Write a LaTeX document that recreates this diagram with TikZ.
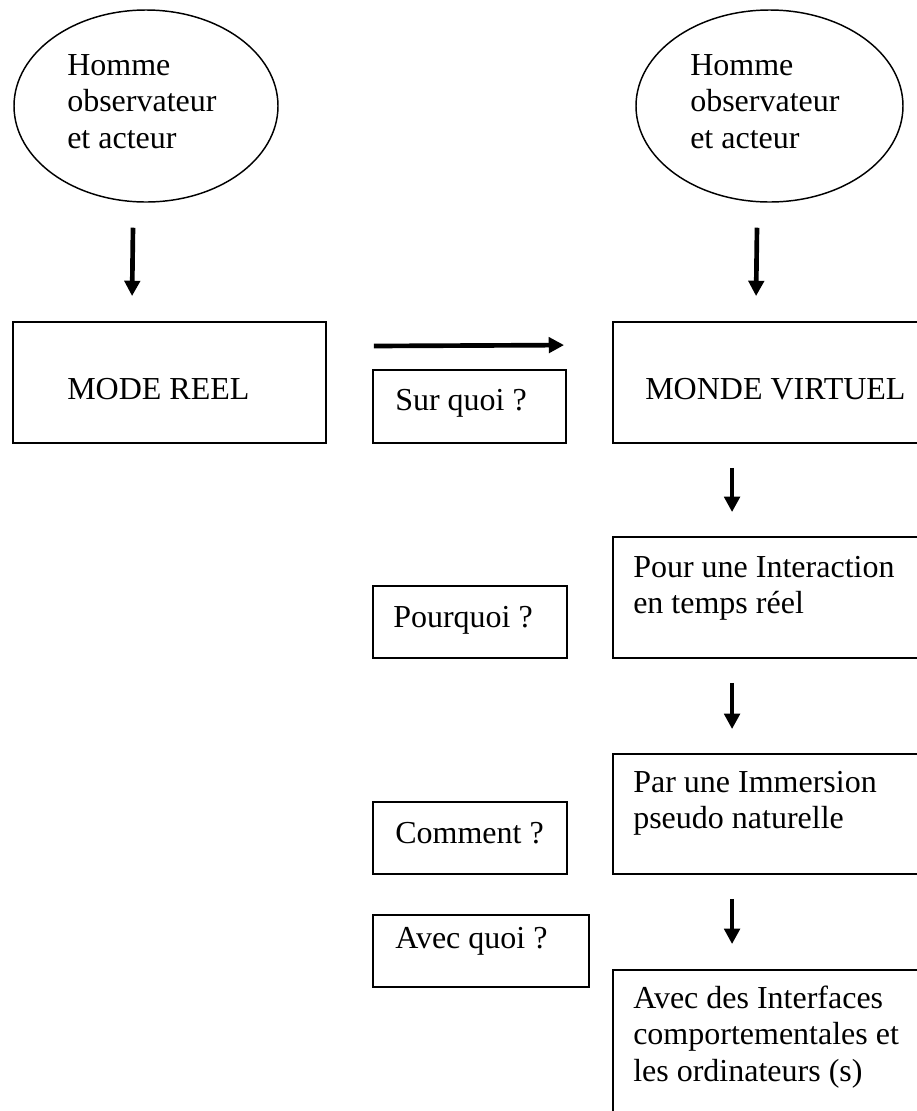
\documentclass[tikz,border=0pt]{standalone}
\usepackage{fontspec}
\setmainfont{Liberation Serif}
\usetikzlibrary{arrows.meta,shapes.geometric,fit}
\tikzset{
  box/.style={draw, line width=1.4pt, rectangle, inner sep=0pt},
  oval/.style={draw, line width=1.1pt, ellipse, inner sep=0pt, minimum height=144pt},
  lbl/.style={anchor=base west, inner sep=0pt, font=\fontsize{24pt}{27.4pt}\selectfont},
  arr/.style={line width=3.5pt, -{Triangle[width=11.5pt,length=11.5pt]}},
}
\newcommand{\lines}[1]{\begin{tabular}[t]{@{}l@{}}#1\end{tabular}}
\begin{document}
\begin{tikzpicture}[x=0.75pt,y=-0.75pt]
\useasboundingbox (0,0) rectangle (917,1111);
\clip (0,0) rectangle (917,1111);
\fill[white] (0,0) rectangle (917,1111);
% ellipses
\node[oval, minimum width=198pt] (ellL) at (146,106) {};
\node[oval, minimum width=200.25pt] (ellR) at (769.5,106) {};
\node[lbl] (tellL) at (67,75) {\lines{Homme\\observateur\\et acteur}};
\node[lbl] (tellR) at (690,75) {\lines{Homme\\observateur\\et acteur}};
% main boxes
\node[box, fit={(13,322) (326,443)}] (reel) {};
\node[lbl] (treel) at (67,399) {MODE REEL};
\node[box, fit={(613,322) (935,443)}] (virt) {};
\node[lbl] (tvirt) at (645,399) {MONDE VIRTUEL};
\node[box, fit={(613,537) (935,658)}] (pour) {};
\node[lbl] (tpour) at (633,577) {\lines{Pour une Interaction\\en temps réel}};
\node[box, fit={(613,754) (935,874)}] (par) {};
\node[lbl] (tpar) at (633,792) {\lines{Par une Immersion\\pseudo naturelle}};
\node[box, fit={(613,970) (935,1140)}] (avec) {};
\node[lbl] (tavec) at (633,1008) {\lines{Avec des Interfaces\\comportementales et\\les ordinateurs (s)}};
% question boxes
\node[box, fit={(373,370) (566,443)}] (q1) {};
\node[lbl] (tq1) at (395,410) {Sur quoi ?};
\node[box, fit={(373,586) (567,658)}] (q2) {};
\node[lbl] (tq2) at (393,627) {Pourquoi ?};
\node[box, fit={(373,802) (567,874)}] (q3) {};
\node[lbl] (tq3) at (395,843) {Comment ?};
\node[box, fit={(373,915) (589,987)}] (q4) {};
\node[lbl] (tq4) at (395,948) {Avec quoi ?};
% arrows
\draw[arr] ([shift={(-13,25)}]ellL.south) -- ([shift={(120,-25)}]reel.north west);
\draw[arr] ([shift={(-12.5,25)}]ellR.south) -- ([shift={(144,-25)}]virt.north west);
\draw[arr] ([shift={(47,-36.5)}]reel.east) -- ([shift={(-48,24)}]virt.north west);
\draw[arr] ([shift={(120,24)}]virt.south west) -- ([shift={(120,-24)}]pour.north west);
\draw[arr] ([shift={(120,24)}]pour.south west) -- ([shift={(120,-24)}]par.north west);
\draw[arr] ([shift={(120,24)}]par.south west) -- ([shift={(120,-25)}]avec.north west);
\end{tikzpicture}
\end{document}
